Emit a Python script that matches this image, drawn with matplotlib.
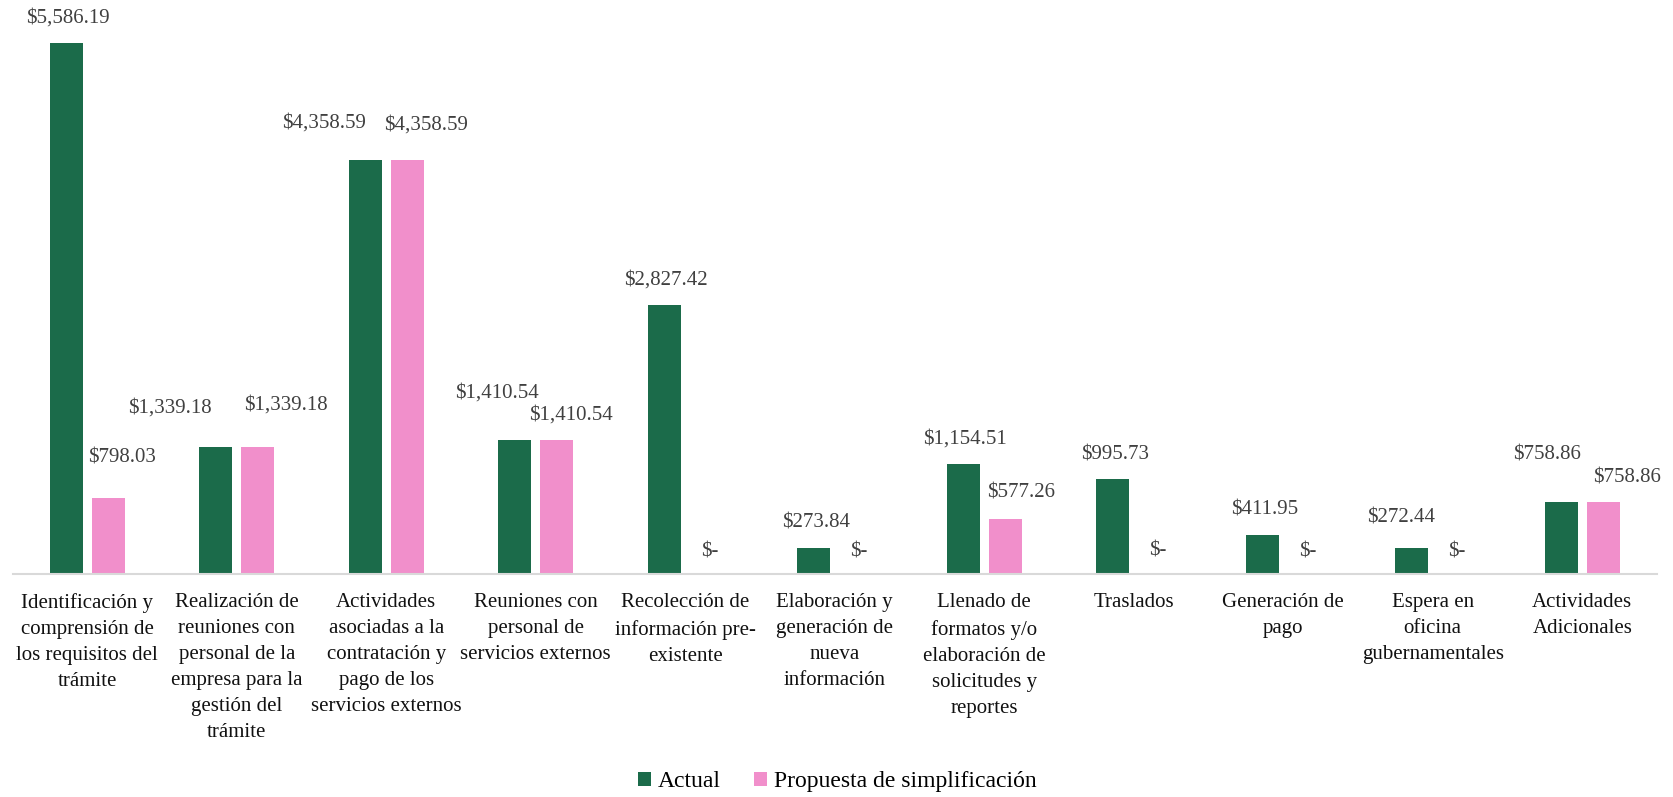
import numpy as np
import matplotlib
matplotlib.use("Agg")
import matplotlib.pyplot as plt

plt.rcParams['font.family'] = ['Liberation Serif', 'DejaVu Serif']

categories = [
    "Identificación y\ncomprensión de\nlos requisitos del\ntrámite",
    "Realización de\nreuniones con\npersonal de la\nempresa para la\ngestión del\ntrámite",
    "Actividades\nasociadas a la\ncontratación y\npago de los\nservicios externos",
    "Reuniones con\npersonal de\nservicios externos",
    "Recolección de\ninformación pre-\nexistente",
    "Elaboración y\ngeneración de\nnueva\ninformación",
    "Llenado de\nformatos y/o\nelaboración de\nsolicitudes y\nreportes",
    "Traslados",
    "Generación de\npago",
    "Espera en\noficina\ngubernamentales",
    "Actividades\nAdicionales",
]
actual = [5586.19, 1339.18, 4358.59, 1410.54, 2827.42, 273.84, 1154.51, 995.73, 411.95, 272.44, 758.86]
propuesta = [798.03, 1339.18, 4358.59, 1410.54, 0, 0, 577.26, 0, 0, 0, 758.86]
series_names = ["Actual", "Propuesta de simplificación"]

# label nudges in pixels (Excel labels were dragged by hand in the original)
dx_act = [2, -46, -41, -18, 2, 2, 2, 2, 2, -11, -14]
dy_act = [25, 39, 37, 47, 25, 25, 25, 24, 25, 30, 47]
dx_prop = [14, 28, 19, 14, 3, 3, 16, 3, 3, 3, 24]
dy_prop = [40, 42, 35, 25, 22, 22, 26, 23, 22, 22, 24]

green = "#1b6b4a"
pink = "#f18fcb"


def money(v):
    if v == 0:
        return "$-"
    return "${:,.2f}".format(v)


fig = plt.figure(figsize=(16.74, 7.97), dpi=100)
ax = fig.add_axes([12.5 / 1674, 1 - 574 / 797, 1644.5 / 1674, 570 / 797])

x = np.arange(len(categories))
w = 0.224
off = 0.1405
ax.bar(x - off, actual, w, color=green, label=series_names[0])
ax.bar(x + off, propuesta, w, color=pink, label=series_names[1])

for i in range(len(categories)):
    ax.annotate(money(actual[i]), (x[i] - off, actual[i]), xytext=(dx_act[i], dy_act[i]),
                textcoords="offset pixels", ha="center", va="center", fontsize=15, color="#404040")
    ax.annotate(money(propuesta[i]), (x[i] + off, propuesta[i]), xytext=(dx_prop[i], dy_prop[i]),
                textcoords="offset pixels", ha="center", va="center", fontsize=15, color="#404040")

ax.set_xlim(-0.5, len(categories) - 0.5)
ax.set_ylim(0, 6000)
ax.set_xticks(x)
ax.set_xticklabels(categories, fontsize=15, color="#111111")
for lbl in ax.get_xticklabels():
    lbl.set_linespacing(1.5)
ax.tick_params(axis="x", length=0, pad=14)
ax.set_yticks([])
for s in ["top", "right", "left"]:
    ax.spines[s].set_visible(False)
ax.spines["bottom"].set_color("#d9d9d9")
ax.spines["bottom"].set_linewidth(1.5)

fig.legend(loc="center", bbox_to_anchor=(0.5, 1 - 781.5 / 797), ncol=2, frameon=False,
           fontsize=17, handlelength=0.55, handleheight=0.55, handletextpad=0.3,
           columnspacing=1.4)

fig.savefig("out.png", dpi=100)
